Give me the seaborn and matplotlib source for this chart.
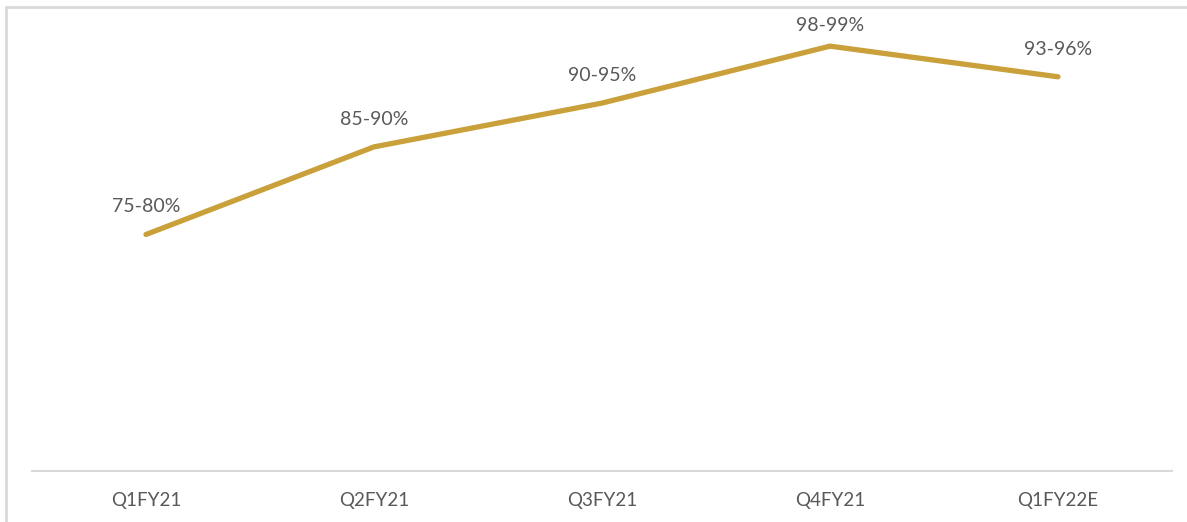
import matplotlib
matplotlib.use("Agg")
import matplotlib.pyplot as plt
from matplotlib.lines import Line2D
import seaborn as sns
import pandas as pd

quarters = ["Q1FY21", "Q2FY21", "Q3FY21", "Q4FY21", "Q1FY22E"]
utilisation = [77, 87, 92, 98.5, 95]
range_labels = ["75-80%", "85-90%", "90-95%", "98-99%", "93-96%"]

df = pd.DataFrame({"quarter": quarters, "value": utilisation, "label": range_labels})

sns.set_theme(style="white")
plt.rcParams["font.family"] = ["Lato", "DejaVu Sans"]

W, H = 1187, 522
fig = plt.figure(figsize=(W / 100, H / 100), dpi=100)
ax = fig.add_axes([32 / W, 1 - 471 / H, (1172 - 32) / W, (471 - 33) / H])

line_color = "#C9A03A"
text_color = "#595959"

sns.lineplot(data=df, x="quarter", y="value", sort=False, color=line_color,
             linewidth=3.8, solid_capstyle="round", solid_joinstyle="miter", ax=ax)

ax.set_xlim(-0.5, len(quarters) - 0.5)
ax.set_ylim(50, 100)
ax.set_yticks([])
ax.set_xlabel("")
ax.set_ylabel("")
ax.tick_params(axis="x", length=0, pad=15, labelsize=13.5, labelcolor=text_color)

for s in ["top", "right", "left"]:
    ax.spines[s].set_visible(False)
ax.spines["bottom"].set_color("#D9D9D9")
ax.spines["bottom"].set_linewidth(1.5)

for i, (v, lab) in enumerate(zip(utilisation, range_labels)):
    off = 15 if v > 98 else 20
    ax.annotate(lab, (i, v), xytext=(0, off), textcoords="offset points",
                ha="center", va="center", fontsize=14, color=text_color,
                annotation_clip=False)

# outer frame (top and left edges)
fig.add_artist(Line2D([6 / W, 6 / W], [0, 1 - 7 / H], transform=fig.transFigure,
                      color="#D9D9D9", linewidth=2))
fig.add_artist(Line2D([6 / W, 1], [1 - 7 / H, 1 - 7 / H], transform=fig.transFigure,
                      color="#D9D9D9", linewidth=2))

fig.savefig("out.png", dpi=100)
